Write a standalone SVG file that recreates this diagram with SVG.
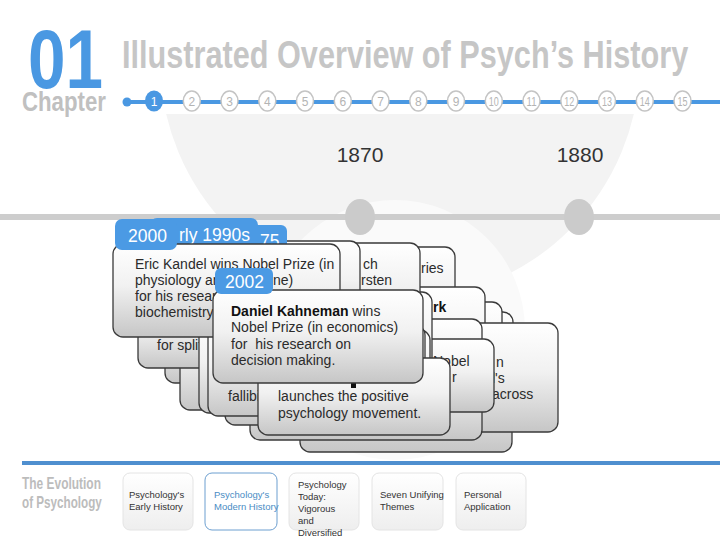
<svg xmlns="http://www.w3.org/2000/svg" width="720" height="540" viewBox="0 0 720 540">
<defs>
<linearGradient id="cg" x1="0" y1="0" x2="0" y2="1"><stop offset="0" stop-color="#ffffff"/><stop offset="0.45" stop-color="#f1f1f1"/><stop offset="1" stop-color="#c6c6c6"/></linearGradient>
<linearGradient id="nb" x1="0" y1="0" x2="0" y2="1"><stop offset="0" stop-color="#ffffff"/><stop offset="1" stop-color="#eeeeee"/></linearGradient>
<clipPath id="wm"><rect x="0" y="114" width="720" height="347"/></clipPath>
</defs>
<style>
.card{fill:url(#cg);stroke:#3a3a3a;stroke-width:1.3}
.tab{fill:#4b9ae4}
.tt{font-family:"Liberation Sans",Arial,sans-serif;font-size:17.5px;fill:#ffffff}
.t{font-family:"Liberation Sans",Arial,sans-serif;font-size:14px;fill:#2b2b2b}
.b{font-weight:bold;fill:#111111}
.hd{font-family:"Liberation Sans",Arial,sans-serif;font-weight:bold}
.num{font-family:"Liberation Sans",Arial,sans-serif;font-size:12px;fill:#b4b4b4;text-anchor:middle}
.sc{fill:#ffffff;stroke:#c4c4c4;stroke-width:1.5}
.yr{font-family:"Liberation Sans",Arial,sans-serif;font-size:21px;fill:#333333;text-anchor:middle}
.nav{fill:url(#nb);stroke:#e4e4e4;stroke-width:1}
.nt{font-family:"Liberation Sans",Arial,sans-serif;font-size:9.5px;fill:#333333}
</style>

<g id="background" clip-path="url(#wm)">
<circle cx="400" cy="60" r="240" fill="#f3f3f3"/>
<circle cx="395" cy="330" r="130" fill="#fafafa"/>
</g>

<g id="header">
<text class="hd" transform="translate(28,88) scale(0.803,1)" x="0" y="0" font-size="84" fill="#4a98e2">01</text>
<text class="hd" transform="translate(122,68) scale(0.807,1)" x="0" y="0" font-size="38" fill="#c6c6c6">Illustrated Overview of Psych’s History</text>
<text class="hd" transform="translate(22,111) scale(0.823,1)" x="0" y="0" font-size="27" fill="#c0c0c0">Chapter</text>
</g>

<g id="connectors">
<line x1="126" y1="102" x2="720" y2="102" stroke="#4a98e2" stroke-width="4"/>
<circle cx="127" cy="102" r="4.5" fill="#4a98e2"/>
<line x1="0" y1="217" x2="720" y2="217" stroke="#cdcdcd" stroke-width="6"/>
<line x1="22" y1="463" x2="720" y2="463" stroke="#4f8fcf" stroke-width="4"/>
</g>

<g id="steps">
<ellipse cx="154" cy="101" rx="9" ry="10.5" fill="#4a98e2"/><text class="num" x="154" y="105.5" style="fill:#ffffff">1</text>
<ellipse class="sc" cx="191.8" cy="101" rx="8.5" ry="10"/><text class="num" x="191.8" y="105.5">2</text>
<ellipse class="sc" cx="229.5" cy="101" rx="8.5" ry="10"/><text class="num" x="229.5" y="105.5">3</text>
<ellipse class="sc" cx="267.3" cy="101" rx="8.5" ry="10"/><text class="num" x="267.3" y="105.5">4</text>
<ellipse class="sc" cx="305" cy="101" rx="8.5" ry="10"/><text class="num" x="305" y="105.5">5</text>
<ellipse class="sc" cx="342.8" cy="101" rx="8.5" ry="10"/><text class="num" x="342.8" y="105.5">6</text>
<ellipse class="sc" cx="380.5" cy="101" rx="8.5" ry="10"/><text class="num" x="380.5" y="105.5">7</text>
<ellipse class="sc" cx="418.3" cy="101" rx="8.5" ry="10"/><text class="num" x="418.3" y="105.5">8</text>
<ellipse class="sc" cx="456" cy="101" rx="8.5" ry="10"/><text class="num" x="456" y="105.5">9</text>
<ellipse class="sc" cx="493.8" cy="101" rx="8.5" ry="10"/><text class="num" x="493.8" y="105.5" textLength="10" lengthAdjust="spacingAndGlyphs">10</text>
<ellipse class="sc" cx="531.5" cy="101" rx="8.5" ry="10"/><text class="num" x="531.5" y="105.5" textLength="10" lengthAdjust="spacingAndGlyphs">11</text>
<ellipse class="sc" cx="569.3" cy="101" rx="8.5" ry="10"/><text class="num" x="569.3" y="105.5" textLength="10" lengthAdjust="spacingAndGlyphs">12</text>
<ellipse class="sc" cx="607" cy="101" rx="8.5" ry="10"/><text class="num" x="607" y="105.5" textLength="10" lengthAdjust="spacingAndGlyphs">13</text>
<ellipse class="sc" cx="644.8" cy="101" rx="8.5" ry="10"/><text class="num" x="644.8" y="105.5" textLength="10" lengthAdjust="spacingAndGlyphs">14</text>
<ellipse class="sc" cx="682.5" cy="101" rx="8.5" ry="10"/><text class="num" x="682.5" y="105.5" textLength="10" lengthAdjust="spacingAndGlyphs">15</text>
</g>

<g id="node-1870"><text class="yr" x="360" y="162">1870</text><ellipse cx="360" cy="217" rx="15" ry="18" fill="#cbcbcb"/></g>
<g id="node-1880"><text class="yr" x="580" y="162">1880</text><ellipse cx="579" cy="217" rx="15" ry="18" fill="#cbcbcb"/></g>

<g id="card-ries"><rect class="card" x="300" y="247" width="155" height="100" rx="10"/><text class="t" x="421" y="273">ries</text></g>
<g id="card-s1"><rect class="card" x="310" y="312" width="203" height="108" rx="10"/></g>
<g id="card-s2"><rect class="card" x="300" y="302" width="202" height="118" rx="10"/></g>
<g id="card-rk"><rect class="card" x="290" y="287" width="195" height="133" rx="10"/><text class="t b" x="433" y="312">rk</text></g>
<g id="card-a"><rect class="card" x="300" y="330" width="212" height="122" rx="10"/></g>
<g id="card-across"><rect class="card" x="320" y="323" width="238" height="109" rx="10"/><text class="t" x="496" y="367">n</text><text class="t" x="492" y="383">l's</text><text class="t" x="492" y="399">across</text></g>
<g id="card-n0"><rect class="card" x="270" y="319" width="212" height="86" rx="10"/></g>
<g id="card-b"><rect class="card" x="250" y="345" width="232" height="95" rx="10"/></g>
<g id="card-nobel"><rect class="card" x="255" y="339" width="239" height="73" rx="10"/><text class="t" x="433" y="366">Nobel</text><text class="t" x="452" y="382">r</text></g>
<g id="card-k432"><rect class="card" x="260" y="292" width="172" height="108" rx="10"/></g>
<g id="card-rsten"><rect class="card" x="250" y="243" width="170" height="97" rx="10"/><text class="t" x="363" y="269">ch</text><text class="t" x="361" y="285">rsten</text></g>
<g id="card-r3"><rect class="card" x="240" y="241" width="120" height="89" rx="10"/></g>
<g id="card-1975"><rect class="card" x="235" y="246" width="100" height="84" rx="10"/><rect class="tab" x="240" y="225" width="47" height="27" rx="6"/><text class="tt" x="260" y="247">75</text></g>
<g id="card-early1990s"><rect class="card" x="140" y="246" width="190" height="84" rx="10"/><rect class="tab" x="150" y="218" width="108" height="32" rx="7"/><text class="tt" x="179" y="241">rly 1990s</text></g>
<g id="card-l2"><rect class="card" x="165" y="305" width="215" height="78" rx="10"/></g>
<g id="card-l3"><rect class="card" x="180" y="310" width="220" height="100" rx="10"/></g>
<g id="card-split"><rect class="card" x="138" y="300" width="222" height="68" rx="10"/><text class="t" x="157" y="350">for split</text></g>
<g id="card-l4"><rect class="card" x="199" y="320" width="221" height="93" rx="10"/></g>
<g id="card-l6"><rect class="card" x="225" y="330" width="205" height="95" rx="10"/></g>
<g id="card-fallibi"><rect class="card" x="208" y="325" width="217" height="91" rx="10"/><text class="t" x="228" y="401">fallibi</text></g>

<g id="card-2000">
<rect class="card" x="113" y="244" width="227" height="93" rx="10"/>
<rect class="tab" x="115" y="219" width="62" height="31" rx="7"/>
<text class="tt" x="128" y="242">2000</text>
<text class="t" x="135" y="269">Eric Kandel wins Nobel Prize (in</text>
<text class="t" x="135" y="285">physiology an</text>
<text class="t" x="273" y="285">ne)</text>
<text class="t" x="135" y="301">for his resear</text>
<text class="t" x="135" y="317">biochemistry</text>
</g>

<g id="card-positive">
<rect class="card" x="258" y="358" width="192" height="77" rx="10"/>
<rect x="351" y="383" width="5" height="5" fill="#111111"/>
<text class="t" x="278" y="401">launches the positive</text>
<text class="t" x="278" y="418">psychology movement.</text>
</g>

<g id="card-2002">
<rect class="card" x="213" y="290" width="210" height="93" rx="10"/>
<rect class="tab" x="215" y="268" width="58" height="26" rx="6"/>
<text class="tt" x="225" y="288">2002</text>
<text class="t" x="231" y="316"><tspan class="b">Daniel Kahneman</tspan> wins</text>
<text class="t" x="231" y="332">Nobel Prize (in economics)</text>
<text class="t" x="231" y="348.5">for <tspan dx="4">his research on</tspan></text>
<text class="t" x="231" y="365">decision making.</text>
</g>

<g id="footer">
<text class="hd" transform="translate(22,489) scale(0.747,1)" x="0" y="0" font-size="16" fill="#bcbcbc">The Evolution</text>
<text class="hd" transform="translate(22,508) scale(0.731,1)" x="0" y="0" font-size="16" fill="#bcbcbc">of Psychology</text>
</g>
<g id="nav-early"><rect class="nav" x="123" y="473" width="70" height="57" rx="7"/><text class="nt" x="129" y="498">Psychology's</text><text class="nt" x="129" y="510">Early History</text></g>
<g id="nav-modern"><rect x="205" y="473" width="72" height="57" rx="7" fill="#ffffff" stroke="#6d9fd0" stroke-width="1"/><text class="nt" x="214" y="498" style="fill:#4a8cc4">Psychology's</text><text class="nt" x="214" y="510" style="fill:#4a8cc4">Modern History</text></g>
<g id="nav-today"><rect class="nav" x="289" y="473" width="70" height="57" rx="7"/><text class="nt" x="298" y="488">Psychology</text><text class="nt" x="298" y="500">Today:</text><text class="nt" x="298" y="512">Vigorous</text><text class="nt" x="298" y="524">and</text><text class="nt" x="298" y="536">Diversified</text></g>
<g id="nav-themes"><rect class="nav" x="372" y="473" width="71" height="57" rx="7"/><text class="nt" x="380" y="498">Seven Unifying</text><text class="nt" x="380" y="510">Themes</text></g>
<g id="nav-personal"><rect class="nav" x="456" y="473" width="70" height="57" rx="7"/><text class="nt" x="464" y="498">Personal</text><text class="nt" x="464" y="510">Application</text></g>
</svg>
